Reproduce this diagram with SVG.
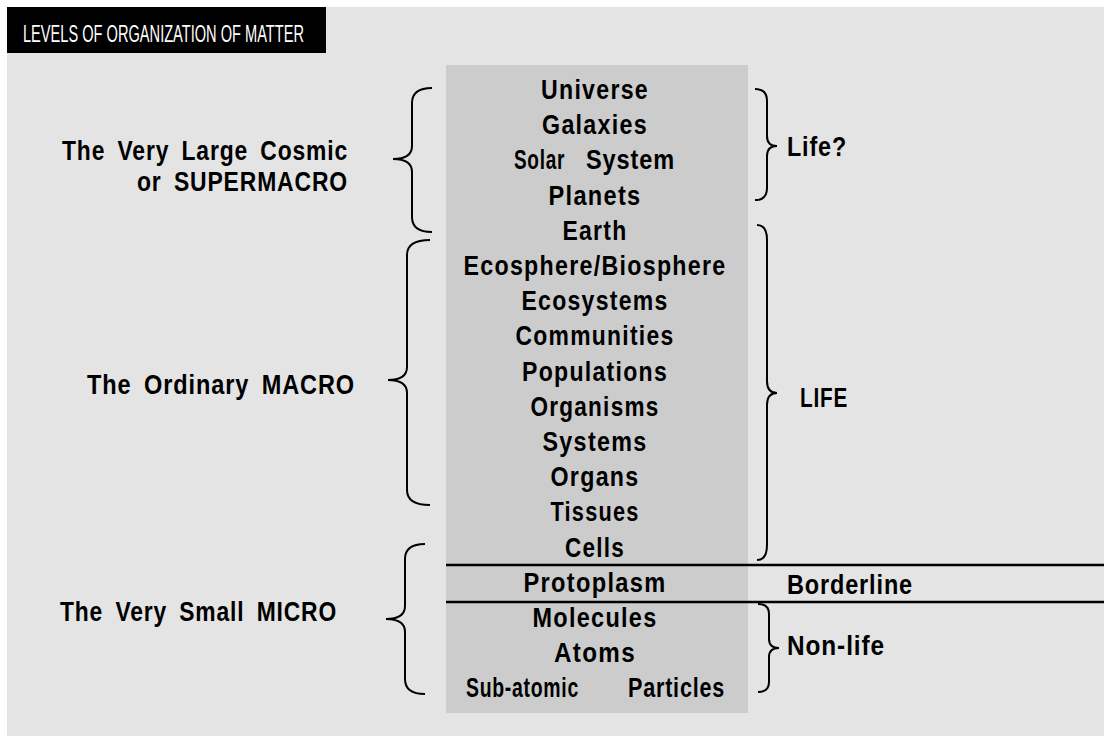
<svg xmlns="http://www.w3.org/2000/svg" width="1104" height="736" viewBox="0 0 1104 736">
<style>
.lv{font-family:"Liberation Sans",Arial,sans-serif;font-weight:bold;font-size:27px;letter-spacing:1.5px;fill:#000;text-anchor:middle}
.sd{font-family:"Liberation Sans",Arial,sans-serif;font-weight:bold;font-size:27px;letter-spacing:1px;word-spacing:6px;fill:#000}
.br{fill:none;stroke:#000;stroke-width:2}
.hl{stroke:#000;stroke-width:2.5}
</style>
<rect x="0" y="0" width="1104" height="736" fill="#ffffff"/>
<rect x="7" y="7" width="1097" height="729" fill="#e4e4e4"/>
<g id="title">
<rect x="7" y="7" width="319" height="46" fill="#000"/>
<text x="23" y="42" font-family="'Liberation Sans Narrow','Liberation Sans',Arial,sans-serif" font-size="23" fill="#fff" textLength="281" lengthAdjust="spacingAndGlyphs">LEVELS OF ORGANIZATION OF MATTER</text>
</g>
<rect id="column" x="446" y="65" width="302" height="648" fill="#cccccc"/>
<g id="connectors">
<line class="hl" x1="446" y1="565" x2="1104" y2="565"/>
<line class="hl" x1="446" y1="602" x2="1104" y2="602"/>
<path class="br" d="M432 88 Q412 88 412 103 L412 146 Q412 159 393 159 Q412 159 412 172 L412 217 Q412 232 432 232"/>
<path class="br" d="M430 240 Q407 240 407 255 L407 367 Q407 380 388 380 Q407 380 407 393 L407 490 Q407 505 430 505"/>
<path class="br" d="M425 544 Q405 544 405 559 L405 606 Q405 619 386 619 Q405 619 405 632 L405 679 Q405 694 425 694"/>
<path class="br" d="M755 89 Q767 89 767 101 L767 136 Q767 146 777 146 Q767 146 767 156 L767 188 Q767 200 755 200"/>
<path class="br" d="M757 225 Q767 225 767 240 L767 381 Q767 393 777 393 Q767 393 767 405 L767 545 Q767 560 757 560"/>
<path class="br" d="M758 604 Q769 604 769 614 L769 639 Q769 648 779 648 Q769 648 769 657 L769 682 Q769 692 758 692"/>
</g>
<g id="levels">
<g id="n-universe"><text class="lv" x="595" y="99" textLength="108" lengthAdjust="spacingAndGlyphs">Universe</text></g>
<g id="n-galaxies"><text class="lv" x="595" y="134" textLength="106" lengthAdjust="spacingAndGlyphs">Galaxies</text></g>
<g id="n-solar"><text class="sd" y="169"><tspan x="514" textLength="51" lengthAdjust="spacingAndGlyphs">Solar</tspan><tspan x="586" textLength="89" lengthAdjust="spacingAndGlyphs">System</tspan></text></g>
<g id="n-planets"><text class="lv" x="595" y="205" textLength="93" lengthAdjust="spacingAndGlyphs">Planets</text></g>
<g id="n-earth"><text class="lv" x="595" y="240" textLength="65" lengthAdjust="spacingAndGlyphs">Earth</text></g>
<g id="n-ecosphere"><text class="lv" x="595" y="275" textLength="263" lengthAdjust="spacingAndGlyphs">Ecosphere/Biosphere</text></g>
<g id="n-ecosystems"><text class="lv" x="595" y="310" textLength="147" lengthAdjust="spacingAndGlyphs">Ecosystems</text></g>
<g id="n-communities"><text class="lv" x="595" y="345" textLength="159" lengthAdjust="spacingAndGlyphs">Communities</text></g>
<g id="n-populations"><text class="lv" x="595" y="381" textLength="146" lengthAdjust="spacingAndGlyphs">Populations</text></g>
<g id="n-organisms"><text class="lv" x="595" y="416" textLength="129" lengthAdjust="spacingAndGlyphs">Organisms</text></g>
<g id="n-systems"><text class="lv" x="595" y="451" textLength="105" lengthAdjust="spacingAndGlyphs">Systems</text></g>
<g id="n-organs"><text class="lv" x="595" y="486" textLength="89" lengthAdjust="spacingAndGlyphs">Organs</text></g>
<g id="n-tissues"><text class="lv" x="595" y="521" textLength="89" lengthAdjust="spacingAndGlyphs">Tissues</text></g>
<g id="n-cells"><text class="lv" x="595" y="557" textLength="60" lengthAdjust="spacingAndGlyphs">Cells</text></g>
<g id="n-protoplasm"><text class="lv" x="595" y="592" textLength="143" lengthAdjust="spacingAndGlyphs">Protoplasm</text></g>
<g id="n-molecules"><text class="lv" x="595" y="627" textLength="125" lengthAdjust="spacingAndGlyphs">Molecules</text></g>
<g id="n-atoms"><text class="lv" x="595" y="662" textLength="82" lengthAdjust="spacingAndGlyphs">Atoms</text></g>
<g id="n-subatomic"><text class="sd" y="697"><tspan x="466" textLength="113" lengthAdjust="spacingAndGlyphs">Sub-atomic</tspan><tspan x="628" textLength="97" lengthAdjust="spacingAndGlyphs">Particles</tspan></text></g>
</g>
<g id="scales">
<g id="n-cosmic"><text class="sd" x="62" y="160" textLength="286" lengthAdjust="spacingAndGlyphs">The Very Large Cosmic</text><text class="sd" x="137" y="191" textLength="211" lengthAdjust="spacingAndGlyphs">or SUPERMACRO</text></g>
<g id="n-macro"><text class="sd" x="87" y="394" textLength="268" lengthAdjust="spacingAndGlyphs">The Ordinary MACRO</text></g>
<g id="n-micro"><text class="sd" x="60" y="621" textLength="277" lengthAdjust="spacingAndGlyphs">The Very Small MICRO</text></g>
</g>
<g id="status">
<g id="n-lifeq"><text class="sd" x="787" y="156" textLength="60" lengthAdjust="spacingAndGlyphs">Life?</text></g>
<g id="n-life"><text class="sd" x="800" y="407" textLength="48" lengthAdjust="spacingAndGlyphs">LIFE</text></g>
<g id="n-borderline"><text class="sd" x="787" y="594" textLength="126" lengthAdjust="spacingAndGlyphs">Borderline</text></g>
<g id="n-nonlife"><text class="sd" x="787" y="655" textLength="98" lengthAdjust="spacingAndGlyphs">Non-life</text></g>
</g>
</svg>
